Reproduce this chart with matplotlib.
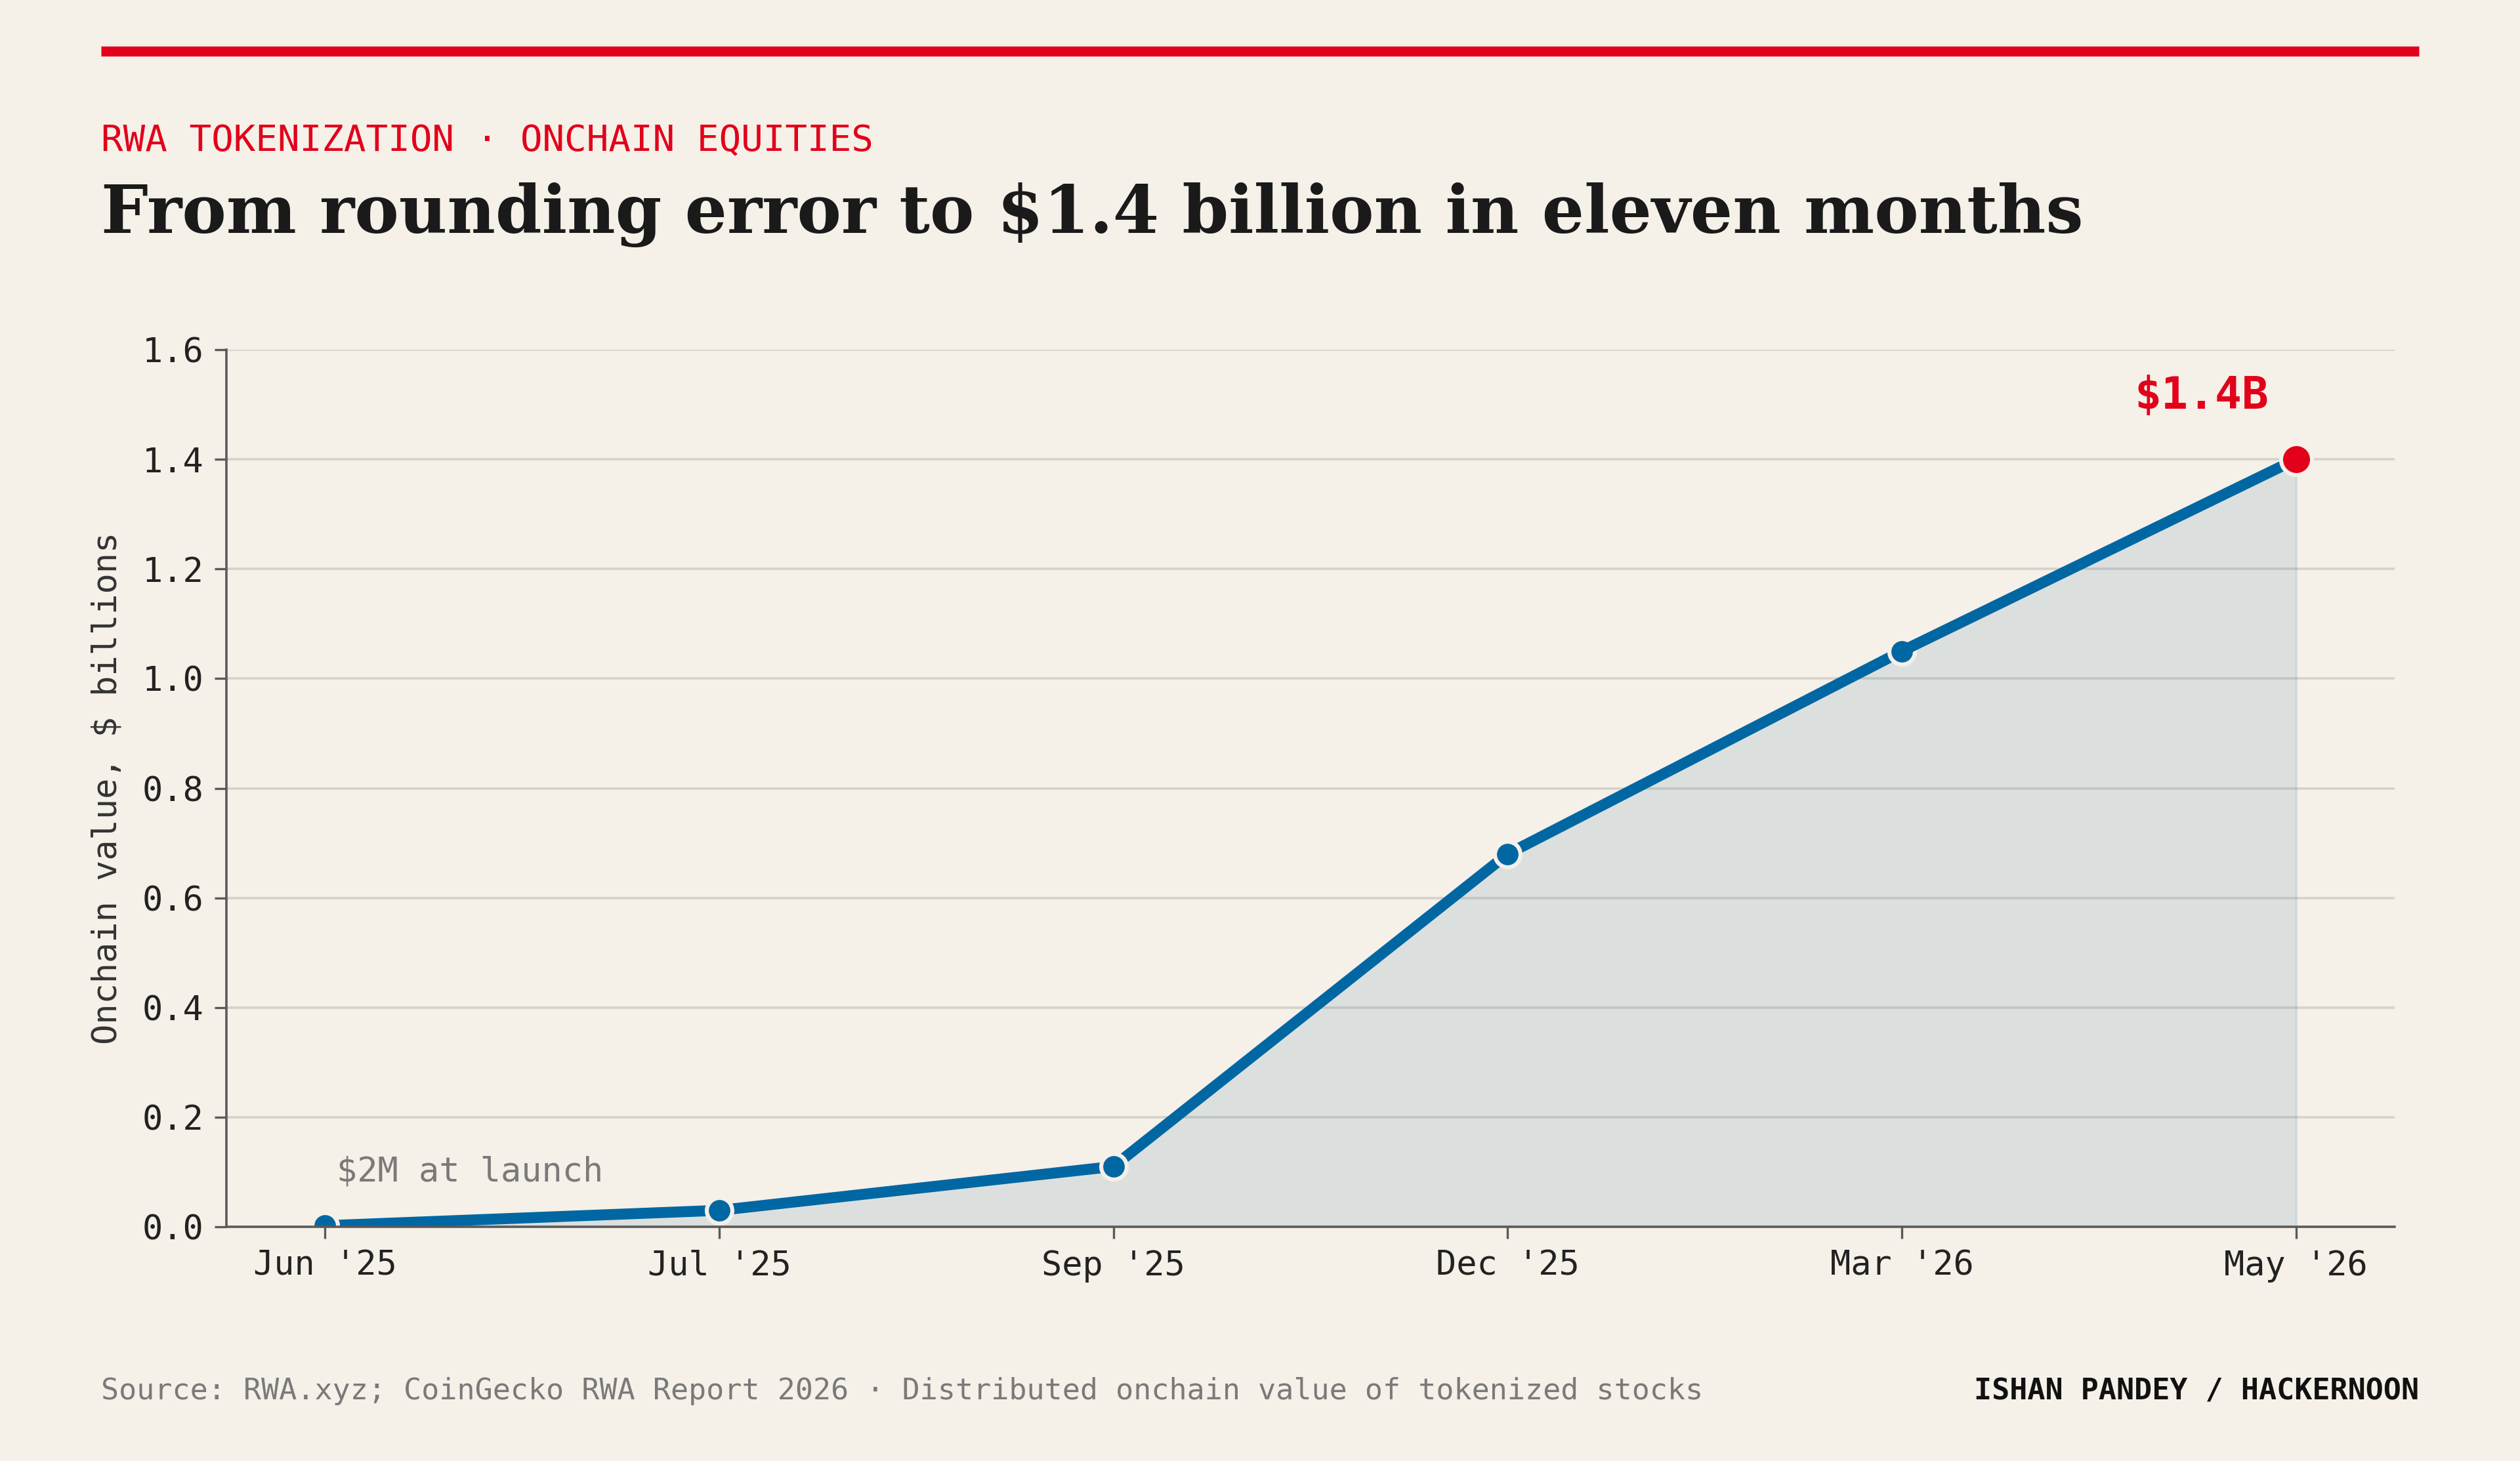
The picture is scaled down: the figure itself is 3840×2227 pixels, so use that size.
import matplotlib
matplotlib.use("Agg")
import matplotlib.pyplot as plt
import numpy as np

months = ["Jun '25", "Jul '25", "Sep '25", "Dec '25", "Mar '26", "May '26"]
values = [0.002, 0.03, 0.11, 0.68, 1.05, 1.40]   # $ billions
yticks = [0.0, 0.2, 0.4, 0.6, 0.8, 1.0, 1.2, 1.4, 1.6]

BG = '#f5f0e8'
BLUE = '#0067a3'
RED = '#e2001a'
MONO = 'DejaVu Sans Mono'

W, H, DPI = 3840, 2227, 200
fig = plt.figure(figsize=(W / DPI, H / DPI), dpi=DPI, facecolor=BG)

# axes box from the reference pixel positions
left, right, top, bottom = 345, 3649, 533, 1870
ax = fig.add_axes([left / W, 1 - bottom / H, (right - left) / W, (bottom - top) / H])
ax.set_facecolor(BG)

x = np.arange(len(months))
ax.fill_between(x, values, 0, color='#4885ac', alpha=0.15, linewidth=1.2,
                edgecolor=(0.28, 0.52, 0.67, 0.25), zorder=2)
ax.plot(x[:-1], values[:-1], color=BLUE, linewidth=6, marker='o',
        markersize=14, markerfacecolor=BLUE, markeredgecolor=BG,
        markeredgewidth=2.2, zorder=3)
ax.plot(x[-2:], values[-2:], color=BLUE, linewidth=6, zorder=3)
ax.plot(x[-1], values[-1], marker='o', markersize=17, color=RED,
        markeredgecolor=BG, markeredgewidth=2.2, zorder=4, clip_on=False)

ax.set_xlim(-0.25, 5.25)
ax.set_ylim(0, 1.6)
ax.set_xticks(x)
ax.set_xticklabels(months)
ax.set_yticks(yticks)
ax.set_yticklabels(["%.1f" % t for t in yticks])
ax.grid(axis='y', color='#d6d1c9', linewidth=1.3, zorder=0)
ax.set_axisbelow(True)

for s in ['top', 'right']:
    ax.spines[s].set_visible(False)
for s in ['left', 'bottom']:
    ax.spines[s].set_color('#5a5a5a')
    ax.spines[s].set_linewidth(1.3)
    ax.spines[s].set_zorder(5)

ax.tick_params(axis='both', colors='#5a5a5a', length=6.5, width=1.2,
               labelsize=18.7, labelcolor='#222222', pad=6)
for lab in ax.get_xticklabels() + ax.get_yticklabels():
    lab.set_fontfamily(MONO)

ax.set_ylabel('Onchain value, $ billions', fontsize=18.7, family=MONO,
              color='#333333', labelpad=10)

ax.text(0.03, 0.1, '$2M at launch', fontsize=18.7, family=MONO,
        color='#7a7a7a', ha='left', va='center')
ax.text(4.76, 1.515, '$1.4B', fontsize=24.5, family=MONO, fontweight='bold',
        color=RED, ha='center', va='center')

# header
fig.add_artist(plt.Line2D([154 / W, 3686 / W], [1 - 78 / H, 1 - 78 / H],
                          color=RED, linewidth=5.5, solid_capstyle='butt'))
fig.text(154 / W, 1 - 230 / H, 'RWA TOKENIZATION \u00b7 ONCHAIN EQUITIES',
         fontsize=20.1, family=MONO, color=RED, ha='left', va='baseline')
fig.text(154 / W, 1 - 355 / H,
         'From rounding error to $1.4 billion in eleven months',
         fontsize=36.4, family='DejaVu Serif', fontweight='bold',
         color='#1a1a1a', ha='left', va='baseline')

# footer
fig.text(154 / W, 1 - 2121 / H,
         'Source: RWA.xyz; CoinGecko RWA Report 2026 \u00b7 '
         'Distributed onchain value of tokenized stocks',
         fontsize=16.2, family=MONO, color='#7a7a7a', ha='left', va='center')
fig.text(3686 / W, 1 - 2121 / H, 'ISHAN PANDEY / HACKERNOON',
         fontsize=16.2, family=MONO, fontweight='bold', color='#111111',
         ha='right', va='center')

fig.savefig('out.png', dpi=DPI, facecolor=BG)
